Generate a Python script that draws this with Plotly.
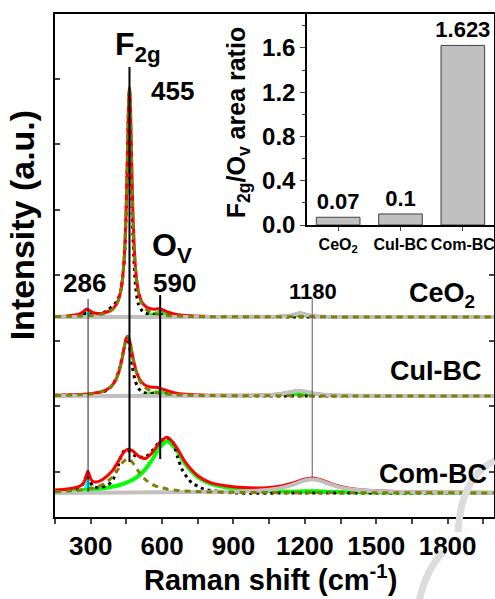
import plotly.graph_objects as go

FONT = "Arial, 'Liberation Sans', Helvetica, sans-serif"

# ---------------- data (intensities relative to each spectrum's baseline) ----------------
samples = ["CeO2", "CuI-BC", "Com-BC"]
offsets = [2.366, 1.16, -0.32]

# CeO2
ceo2_fit_x = [150, 200, 250, 270, 285, 300, 320, 350, 380, 400, 415, 430, 440, 448, 455, 460, 463, 466, 471, 478,
              488, 500, 515, 535, 560, 590, 620, 660, 720, 800, 900, 1000, 1080, 1130, 1160, 1180, 1200, 1230, 1280,
              1400, 1600, 1800, 1995]
ceo2_fit = [0.009, 0.015, 0.041, 0.085, 0.12, 0.085, 0.056, 0.057, 0.092, 0.151, 0.248, 0.477, 0.854, 1.51, 2.55,
            3.33, 3.51, 3.33, 2.55, 1.51, 0.76, 0.40, 0.23, 0.15, 0.12, 0.126, 0.082, 0.04, 0.019, 0.009, 0.005,
            0.003, 0.007, 0.017, 0.043, 0.061, 0.043, 0.017, 0.006, 0.002, 0.001, 0.001, 0.001]
ceo2_f2g_x = [150, 250, 300, 350, 380, 400, 415, 430, 440, 448, 455, 460, 463, 466, 471, 478, 488, 500, 515, 535,
              560, 590, 620, 660, 720, 800, 1000, 1400, 1995]
ceo2_f2g = [0.006, 0.013, 0.022, 0.046, 0.084, 0.143, 0.24, 0.47, 0.846, 1.50, 2.54, 3.32, 3.50, 3.32, 2.54, 1.50,
            0.745, 0.385, 0.206, 0.110, 0.062, 0.036, 0.024, 0.015, 0.009, 0.005, 0.003, 0.001, 0.0]
ceo2_ov_x = [470, 500, 530, 560, 590, 620, 650, 680, 720, 780]
ceo2_ov = [0.009, 0.015, 0.028, 0.058, 0.09, 0.058, 0.028, 0.015, 0.008, 0.004]
ceo2_cyan_x = [220, 250, 265, 275, 284, 293, 303, 318, 350]
ceo2_cyan = [0.008, 0.026, 0.053, 0.083, 0.1, 0.083, 0.053, 0.026, 0.008]
ceo2_bump_x = [1080, 1130, 1160, 1180, 1200, 1230, 1280]
ceo2_bump = [0.005, 0.016, 0.042, 0.06, 0.042, 0.016, 0.005]
ceo2_data_x = [150, 200, 250, 285, 300, 330, 350, 370, 390, 410, 425, 440, 448, 455, 460, 463, 466, 471, 478, 488,
               500, 515, 530, 560, 590, 650, 750, 900, 1200, 1500, 1995]
ceo2_data = [0.0, 0.01, 0.03, 0.06, 0.05, 0.04, 0.06, 0.10, 0.16, 0.24, 0.38, 0.80, 1.45, 2.50, 3.30, 3.45, 3.20,
             2.30, 1.20, 0.50, 0.20, 0.10, 0.06, 0.04, 0.04, 0.02, 0.0, 0.0, 0.0, 0.0, 0.0]

# CuI-BC
cui_fit_x = [150, 200, 250, 300, 340, 370, 390, 405, 420, 432, 442, 450, 455, 460, 468, 478, 490, 505, 525, 550,
             580, 610, 650, 700, 800, 900, 1000, 1050, 1100, 1140, 1170, 1200, 1240, 1300, 1400, 1600, 1800, 1995]
cui_fit = [0.010, 0.014, 0.021, 0.034, 0.060, 0.104, 0.163, 0.244, 0.388, 0.575, 0.767, 0.885, 0.91, 0.886, 0.770,
           0.582, 0.398, 0.260, 0.173, 0.136, 0.128, 0.096, 0.051, 0.026, 0.011, 0.010, 0.011, 0.018, 0.033, 0.061,
           0.081, 0.069, 0.038, 0.016, 0.006, 0.002, 0.001, 0.001]
cui_f2g_x = [150, 250, 300, 340, 370, 390, 405, 420, 432, 442, 450, 455, 460, 468, 478, 490, 505, 525, 550, 580,
             610, 650, 700, 800, 1000, 1400, 1995]
cui_f2g = [0.009, 0.019, 0.032, 0.057, 0.10, 0.158, 0.238, 0.381, 0.567, 0.758, 0.875, 0.90, 0.875, 0.758, 0.567,
           0.381, 0.238, 0.140, 0.082, 0.049, 0.032, 0.021, 0.013, 0.007, 0.003, 0.001, 0.0]
cui_ov_x = [420, 460, 490, 525, 550, 585, 620, 650, 700, 760, 820]
cui_ov = [0.007, 0.011, 0.017, 0.033, 0.054, 0.08, 0.054, 0.030, 0.013, 0.006, 0.003]
cui_bump_x = [950, 1000, 1050, 1100, 1140, 1175, 1210, 1250, 1300, 1350, 1420]
cui_bump = [0.005, 0.008, 0.015, 0.031, 0.060, 0.08, 0.060, 0.031, 0.015, 0.008, 0.005]
cui_data_x = [150, 250, 300, 350, 380, 400, 415, 430, 440, 448, 453, 460, 468, 475, 486, 500, 517, 540, 580, 650,
              750, 900, 1200, 1500, 1995]
cui_data = [0.01, 0.02, 0.03, 0.06, 0.12, 0.22, 0.35, 0.55, 0.72, 0.85, 0.88, 0.82, 0.65, 0.45, 0.25, 0.12, 0.06,
            0.04, 0.04, 0.02, 0.01, 0.0, 0.0, 0.0, 0.0]

# Com-BC
com_fit_x = [150, 200, 250, 265, 275, 282, 288, 294, 301, 311, 326, 350, 390, 415, 435, 455, 475, 500, 530, 560,
             590, 622, 660, 700, 750, 800, 900, 1000, 1050, 1100, 1150, 1190, 1230, 1270, 1310, 1360, 1410, 1460,
             1560, 1700, 1850, 1995]
com_fit = [0.046, 0.061, 0.097, 0.132, 0.19, 0.27, 0.33, 0.28, 0.21, 0.172, 0.169, 0.205, 0.334, 0.474, 0.60,
           0.665, 0.645, 0.565, 0.525, 0.62, 0.77, 0.85, 0.699, 0.458, 0.263, 0.162, 0.095, 0.077, 0.085, 0.106,
           0.152, 0.202, 0.229, 0.199, 0.143, 0.09, 0.06, 0.042, 0.025, 0.015, 0.01, 0.008]
com_f2g_x = [150, 200, 250, 300, 330, 360, 390, 415, 435, 455, 475, 500, 530, 560, 590, 625, 660, 700, 750, 800,
             900, 1000, 1200, 1500, 1995]
com_f2g = [0.019, 0.027, 0.041, 0.068, 0.097, 0.148, 0.24, 0.36, 0.468, 0.52, 0.468, 0.333, 0.203, 0.128, 0.086,
           0.058, 0.041, 0.029, 0.021, 0.015, 0.009, 0.006, 0.004, 0.002, 0.001]
com_ov_x = [150, 200, 250, 300, 360, 415, 455, 500, 530, 560, 590, 622, 660, 700, 750, 800, 900, 1000, 1100, 1200,
            1400, 1600, 1800, 1995]
com_ov = [0.025, 0.031, 0.039, 0.051, 0.075, 0.114, 0.163, 0.258, 0.364, 0.516, 0.692, 0.79, 0.658, 0.429, 0.242,
          0.147, 0.068, 0.038, 0.024, 0.017, 0.010, 0.007, 0.005, 0.003]
com_cyan_x = [240, 255, 265, 275, 282, 288, 294, 301, 311, 321, 336]
com_cyan = [0.011, 0.020, 0.036, 0.097, 0.191, 0.26, 0.191, 0.097, 0.036, 0.020, 0.011]
com_bump_x = [900, 1000, 1050, 1100, 1150, 1190, 1230, 1270, 1310, 1360, 1410, 1460, 1560, 1700]
com_bump = [0.018, 0.033, 0.050, 0.078, 0.128, 0.181, 0.21, 0.181, 0.128, 0.078, 0.050, 0.033, 0.018, 0.009]
com_band_x = [1000, 1066, 1130, 1230, 1330, 1400, 1480]
com_band = [0.015, 0.023, 0.035, 0.05, 0.035, 0.022, 0.013]
com_data_x = [150, 200, 250, 270, 285, 295, 310, 340, 370, 390, 410, 430, 445, 460, 480, 500, 530, 560, 590, 620,
              645, 665, 685, 705, 726, 752, 775, 800, 850, 900, 1200, 1500, 1995]
com_data = [0.03, 0.04, 0.07, 0.15, 0.28, 0.2, 0.1, 0.08, 0.12, 0.18, 0.35, 0.58, 0.66, 0.64, 0.58, 0.55, 0.55,
            0.65, 0.78, 0.84, 0.78, 0.55, 0.35, 0.24, 0.15, 0.10, 0.06, 0.04, 0.02, 0.0, 0.0, 0.0, 0.0]

# peak marker lines (Raman shift) and their vertical extent
marker_x = [289, 463, 592, 1231]
marker_top = [2.64, 6.18, 2.70, 2.66]
marker_bottom = [-0.305, 0.153, 0.198, -0.09]

# inset
inset_cats = ["CeO<sub>2</sub>", "CuI-BC", "Com-BC"]
inset_vals = [0.07, 0.1, 1.623]
inset_text = ["0.07", "0.1", "1.623"]

X_RANGE = [150, 1995]

RED = "#ff0000"
OLIVE = "#808000"
GREEN = "#00ff00"
CYAN = "#00ffff"
GRAY = "#c0c0c0"

fig = go.Figure()


def add_fill(xs, vals, off, color):
    fig.add_trace(go.Scatter(x=xs, y=[off] * len(xs), mode="lines", line=dict(width=0, color=color),
                             showlegend=False, hoverinfo="skip"))
    fig.add_trace(go.Scatter(x=xs, y=[v + off for v in vals], mode="lines",
                             line=dict(width=1, color=color, shape="spline", smoothing=0.8),
                             fill="tonexty", fillcolor=color, showlegend=False, hoverinfo="skip"))


def add_line(xs, vals, off, color, width, dash=None):
    fig.add_trace(go.Scatter(x=xs, y=[v + off for v in vals], mode="lines",
                             line=dict(width=width, color=color, dash=dash, shape="spline", smoothing=0.8),
                             showlegend=False, hoverinfo="skip"))


def gray_line(bx, bv, off):
    xs = [X_RANGE[0]] + bx + [X_RANGE[1]]
    ys = [0.0] + bv + [0.0]
    fig.add_trace(go.Scatter(x=xs, y=[v + off for v in ys], mode="lines",
                             line=dict(width=4, color=GRAY, shape="spline", smoothing=0.6),
                             showlegend=False, hoverinfo="skip"))


specs = [
    dict(fit=(ceo2_fit_x, ceo2_fit), f2g=(ceo2_f2g_x, ceo2_f2g), ov=(ceo2_ov_x, ceo2_ov), cyan=(ceo2_cyan_x, ceo2_cyan),
         bump=(ceo2_bump_x, ceo2_bump), band=(ceo2_bump_x, ceo2_bump), data=(ceo2_data_x, ceo2_data), ovfill=True),
    dict(fit=(cui_fit_x, cui_fit), f2g=(cui_f2g_x, cui_f2g), ov=(cui_ov_x, cui_ov), cyan=None,
         bump=(cui_bump_x, cui_bump), band=(cui_bump_x, cui_bump), data=(cui_data_x, cui_data), ovfill=True),
    dict(fit=(com_fit_x, com_fit), f2g=(com_f2g_x, com_f2g), ov=(com_ov_x, com_ov), cyan=(com_cyan_x, com_cyan),
         bump=(com_bump_x, com_bump), band=(com_band_x, com_band), data=(com_data_x, com_data), ovfill=False),
]

for spec, off in zip(specs, offsets):
    add_fill(*spec["band"], off, GREEN)
    if spec["cyan"] is not None:
        add_fill(*spec["cyan"], off, CYAN)
    if spec["ovfill"]:
        add_fill(*spec["ov"], off, GREEN)
    else:
        add_line(*spec["ov"], off, GREEN, 4)
    add_line(*spec["data"], off, "black", 3, dash="3px,4px")
    add_line(*spec["fit"], off, RED, 3)
    gray_line(*spec["bump"], off)
    add_line(*spec["f2g"], off, OLIVE, 3, dash="6px,5px")

# inset bars
fig.add_trace(go.Bar(x=inset_cats, y=inset_vals, xaxis="x2", yaxis="y2", width=0.7,
                     marker=dict(color="#c0c0c0", line=dict(color="#404040", width=1)),
                     text=["<b>%s</b>" % t for t in inset_text], textposition="outside",
                     constraintext="none", textangle=0,
                     textfont=dict(family=FONT, size=22, color="black"), cliponaxis=False,
                     showlegend=False, hoverinfo="skip"))

# marker lines
marker_w = [1, 2, 2, 1]
marker_c = ["#222222", "black", "black", "#555555"]
shapes = []
for mx, t, b, w, c in zip(marker_x, marker_top, marker_bottom, marker_w, marker_c):
    shapes.append(dict(type="line", xref="x", yref="y", x0=mx, x1=mx, y0=b, y1=t,
                       line=dict(color=c, width=w)))

# faint watermark strokes seen in the lower right corner of the original image
shapes.append(dict(type="path", xref="paper", yref="paper", layer="above",
                   path="M 1.002,0.112 Q 0.925,0.08 0.918,-0.03",
                   line=dict(color="#dcdcdc", width=7)))
shapes.append(dict(type="path", xref="paper", yref="paper", layer="above",
                   path="M 0.884,-0.07 Q 0.845,-0.105 0.83,-0.165",
                   line=dict(color="#dcdcdc", width=7)))


def ann(text, x, y, size, xref="x", yref="y", angle=0):
    return dict(text="<b>%s</b>" % text, x=x, y=y, xref=xref, yref=yref, showarrow=False,
                font=dict(family=FONT, size=size, color="black"), textangle=angle,
                xanchor="center", yanchor="middle")


annotations = [
    ann("F<sub>2g</sub>", 500, 6.5, 32),
    ann("455", 642, 5.82, 26),
    ann("O<sub>V</sub>", 640, 3.42, 32),
    ann("590", 654, 2.885, 26),
    ann("286", 276, 2.885, 26),
    ann("1180", 1234, 2.76, 22),
    ann("CeO<sub>2</sub>", 1775, 2.70, 27),
    ann("CuI-BC", 1751, 1.54, 27),
    ann("Com-BC", 1739, -0.03, 27),
    ann("Intensity (a.u.)", -0.075, 0.58, 34, "paper", "paper", -90),
    ann("Raman shift (cm<sup>-1</sup>)", 0.49, -0.121, 29, "paper", "paper"),
    ann("F<sub>2g</sub>/O<sub>v</sub> area ratio", 0.417, 0.783, 25, "paper", "paper", -90),
]

fig.update_layout(
    width=495, height=599,
    margin=dict(l=55, r=1, t=14, b=82, autoexpand=False),
    paper_bgcolor="white", plot_bgcolor="white",
    font=dict(family=FONT, color="black"),
    showlegend=False,
    shapes=shapes,
    annotations=annotations,
    xaxis=dict(range=X_RANGE, tick0=0, dtick=300, ticks="outside", ticklen=5, tickwidth=1.5, automargin=False,
               minor=dict(dtick=150, ticks="outside", ticklen=5, tickwidth=1.5),
               showline=True, linecolor="black", linewidth=2, mirror=True, showgrid=False, zeroline=False,
               tickfont=dict(family=FONT, size=26, color="black", weight="bold")),
    yaxis=dict(range=[-0.687, 6.99], tick0=0, dtick=1, ticks="inside", ticklen=5, tickwidth=1.5, automargin=False,
               showticklabels=False, showline=True, linecolor="black", linewidth=2, mirror="allticks",
               showgrid=False, zeroline=False),
    xaxis2=dict(domain=[0.574, 1.0], anchor="y2", range=[-0.5, 2.5], ticks="outside", ticklen=4, automargin=False,
                tickangle=0,
                showline=True, linecolor="black", linewidth=1.5, mirror=True, showgrid=False,
                tickfont=dict(family=FONT, size=16, color="black", weight="bold")),
    yaxis2=dict(domain=[0.5805, 1.0], anchor="x2", range=[0, 1.907], dtick=0.4, tickformat=".1f", automargin=False,
                ticks="outside", ticklen=5, minor=dict(dtick=0.2, ticks="outside", ticklen=3),
                showline=True, linecolor="black", linewidth=1.5, mirror=True, showgrid=False, zeroline=False,
                tickfont=dict(family=FONT, size=24, color="black", weight="bold")),
)

fig.write_html("out.html", config={"displayModeBar": False},
               post_script="document.body.style.margin='0';document.body.style.overflow='hidden';")
